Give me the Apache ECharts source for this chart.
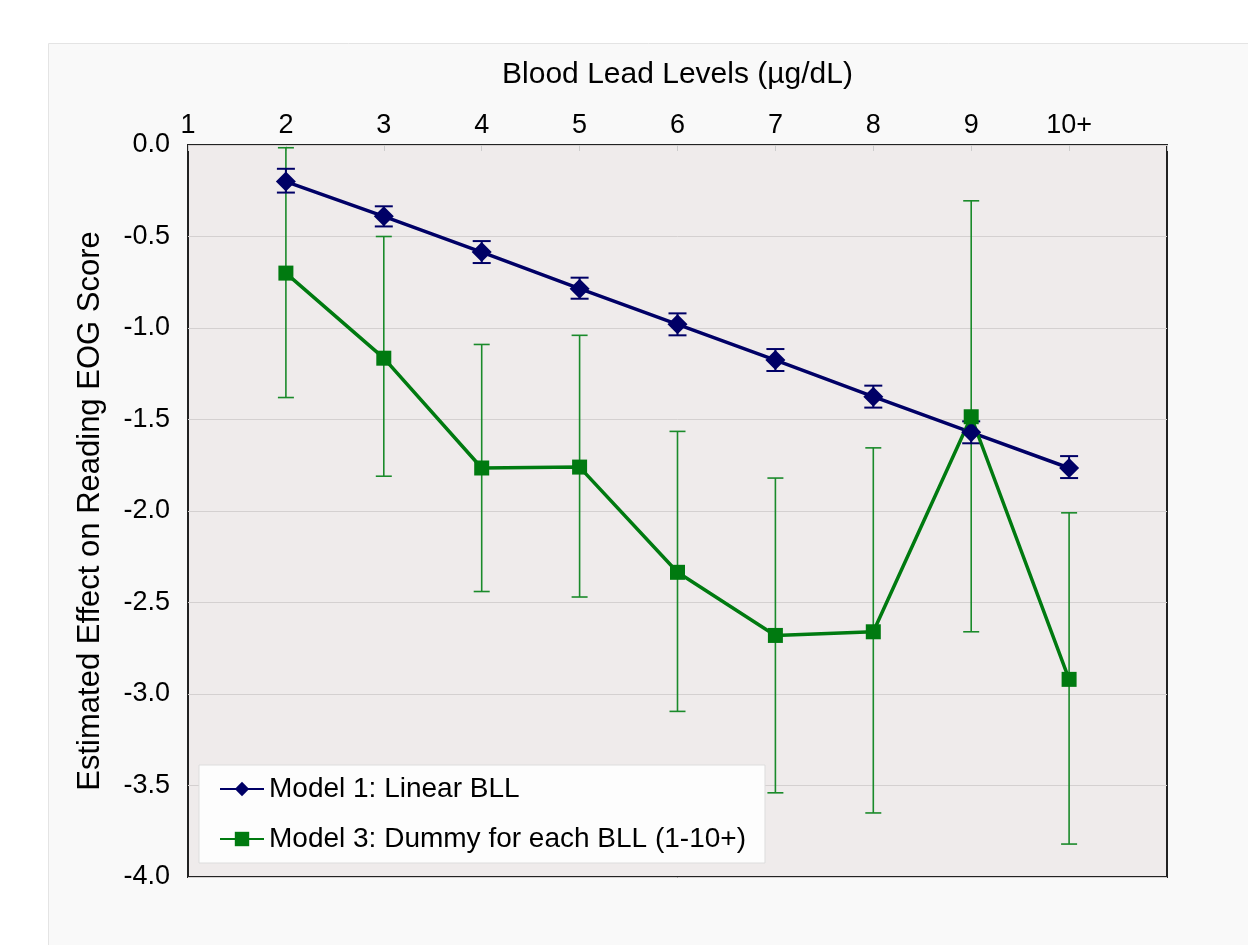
<!DOCTYPE html>
<html>
<head>
<meta charset="utf-8">
<script src="https://cdn.jsdelivr.net/npm/echarts@6/dist/echarts.min.js"></script>
<style>
html,body{margin:0;padding:0;background:#fff;}
#chart{width:1248px;height:945px;}
</style>
</head>
<body>
<div id="chart"></div>
<script>
// blood lead level categories (x positions), 10 = "10+"
var levels = [2, 3, 4, 5, 6, 7, 8, 9, 10];
var tickLabels = ['1', '2', '3', '4', '5', '6', '7', '8', '9', '10+', ''];

// Model 1: Linear BLL
var model1 = [-0.20, -0.39, -0.585, -0.785, -0.98, -1.175, -1.375, -1.57, -1.765];
var model1Low = [-0.26, -0.445, -0.645, -0.84, -1.04, -1.235, -1.435, -1.63, -1.82];
var model1High = [-0.13, -0.335, -0.525, -0.725, -0.92, -1.115, -1.315, -1.51, -1.70];

// Model 3: Dummy for each BLL
var model3 = [-0.70, -1.165, -1.765, -1.76, -2.335, -2.68, -2.66, -1.485, -2.92];
var model3Low = [-1.38, -1.81, -2.44, -2.47, -3.095, -3.54, -3.65, -2.66, -3.82];
var model3High = [-0.015, -0.50, -1.09, -1.04, -1.565, -1.82, -1.655, -0.305, -2.01];

var navy = '#000066';
var green = '#007a10';

function pairs(ys) {
    var out = [];
    for (var i = 0; i < levels.length; i++) out.push([levels[i], ys[i]]);
    return out;
}
function bars(lo, hi) {
    var out = [];
    for (var i = 0; i < levels.length; i++) out.push([levels[i], lo[i], hi[i]]);
    return out;
}
function errorBar(color, lw, cap) {
    return function (params, api) {
        var x = api.value(0);
        var a = api.coord([x, api.value(2)]);
        var b = api.coord([x, api.value(1)]);
        var st = { stroke: color, lineWidth: lw };
        return {
            type: 'group',
            children: [
                { type: 'line', shape: { x1: a[0], y1: a[1], x2: b[0], y2: b[1] }, style: st },
                { type: 'line', shape: { x1: a[0] - cap, y1: a[1], x2: a[0] + cap, y2: a[1] }, style: st },
                { type: 'line', shape: { x1: b[0] - cap, y1: b[1], x2: b[0] + cap, y2: b[1] }, style: st }
            ]
        };
    };
}

var myChart = echarts.init(document.getElementById('chart'));
var option = {
    backgroundColor: '#ffffff',
    textStyle: { fontFamily: 'Liberation Sans, Arial, sans-serif', color: '#000' },
    graphic: [{
        type: 'rect', z: -1, left: 48, top: 43,
        shape: { width: 1260, height: 960 },
        style: { fill: '#f9f9f9', stroke: '#e4e4e4', lineWidth: 1 }
    }],
    grid: {
        left: 188, top: 145, right: 81, bottom: 68,
        show: true, backgroundColor: '#efebeb', borderColor: '#222', borderWidth: 2
    },
    legend: {
        orient: 'vertical', left: 199, top: 765,
        backgroundColor: '#fdfdfd', borderColor: '#dddddd', borderWidth: 1,
        padding: [10, 19, 10, 20], itemGap: 22,
        itemWidth: 44, itemHeight: 18,
        textStyle: { fontSize: 28, color: '#000' },
        data: ['Model 1: Linear BLL', 'Model 3: Dummy for each BLL (1-10+)']
    },
    xAxis: {
        type: 'value', position: 'top', min: 1, max: 11, interval: 1,
        name: 'Blood Lead Levels (\u00b5g/dL)', nameLocation: 'middle', nameGap: 55,
        nameTextStyle: { fontSize: 30, color: '#000' },
        axisLine: { show: false },
        axisTick: { show: true, inside: true, length: 6, lineStyle: { color: '#cccccc' } },
        splitLine: { show: false },
        axisLabel: {
            fontSize: 27, color: '#000', margin: 6,
            formatter: function (v) { return tickLabels[v - 1]; }
        }
    },
    yAxis: {
        type: 'value', min: -4, max: 0, interval: 0.5,
        name: 'Estimated Effect on Reading EOG Score', nameLocation: 'middle', nameRotate: 90, nameGap: 82,
        nameTextStyle: { fontSize: 31, color: '#000' },
        axisLine: { show: false },
        axisTick: { show: false },
        splitLine: { lineStyle: { color: '#d4d0d0', width: 1 } },
        axisLabel: {
            fontSize: 27, color: '#000', margin: 18,
            formatter: function (v) { return v.toFixed(1); }
        }
    },
    series: [
        {
            type: 'custom', name: 'm3err', silent: true, z: 1,
            renderItem: errorBar('#1a8a2a', 1.6, 8),
            data: bars(model3Low, model3High)
        },
        {
            type: 'custom', name: 'm1err', silent: true, z: 1,
            renderItem: errorBar(navy, 2, 9),
            data: bars(model1Low, model1High)
        },
        {
            type: 'line', name: 'Model 1: Linear BLL', z: 3,
            data: pairs(model1),
            symbol: 'diamond', symbolSize: 20,
            lineStyle: { color: navy, width: 3.5 },
            itemStyle: { color: navy }
        },
        {
            type: 'line', name: 'Model 3: Dummy for each BLL (1-10+)', z: 3,
            data: pairs(model3),
            symbol: 'rect', symbolSize: 15,
            lineStyle: { color: green, width: 3.5 },
            itemStyle: { color: green }
        }
    ]
};
myChart.setOption(option);
</script>
</body>
</html>
